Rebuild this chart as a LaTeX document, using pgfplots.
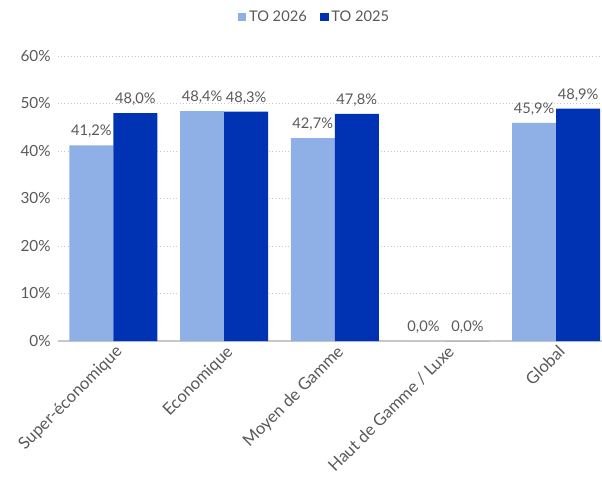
\documentclass[border=0pt]{standalone}
\usepackage{fontspec}
\setmainfont{Lato}
\usepackage{pgfplots}
\pgfplotsset{compat=1.18}
\definecolor{lightb}{RGB}{142,176,230}
\definecolor{darkb}{RGB}{0,51,180}
\definecolor{txt}{RGB}{89,89,89}
\definecolor{gridc}{RGB}{200,200,200}
\begin{document}
\begin{tikzpicture}
\path[use as bounding box] (-43.5pt,-101.25pt) rectangle (408pt,255.75pt);
\begin{axis}[
  at={(0,0)}, anchor=south west,
  scale only axis, width=408pt, height=213.75pt,
  xmin=-0.5, xmax=4.414, ymin=0, ymax=60,
  ybar, bar width=33pt,
  axis x line*=bottom,
  axis y line*=left,
  x axis line style={draw=gridc, line width=0.8pt, -},
  y axis line style={draw=none},
  ymajorgrids, grid style={gridc, dotted, line width=0.6pt},
  ytick={0,10,...,60},
  yticklabels={0\%,10\%,20\%,30\%,40\%,50\%,60\%},
  xtick={0,1,2,3,4},
  xticklabels={Super-économique,Economique,Moyen de Gamme,Haut de Gamme / Luxe,Global},
  x tick label style={rotate=45, anchor=north east, inner sep=1pt, xshift=0pt, yshift=-1pt, font=\fontsize{12.5}{14}\selectfont},
  y tick label style={font=\fontsize{11.5}{14}\selectfont, xshift=-2pt},
  major tick length=0pt,
  tick label style={text=txt},
  /pgf/number format/assume math mode=true,
  nodes near coords={\pgfmathprintnumber[fixed,fixed zerofill,precision=1,use comma]{\pgfplotspointmeta}\%},
  every node near coord/.append style={font=\fontsize{11}{13}\selectfont, text=txt, yshift=2pt},
  legend style={at={(0.472,1.137)}, anchor=center, draw=none, font=\fontsize{11}{13}\selectfont, text=txt, legend columns=2, /tikz/every even column/.append style={column sep=8pt}},
  legend image code/.code={\fill[#1] (0pt,-3.2pt) rectangle (6.4pt,3.2pt);},
  clip=false,
]
\addplot[fill=lightb, draw=none, bar shift=-16.5pt] coordinates {(0,41.2) (1,48.4) (2,42.7) (3,0) (4,45.9)};
\addplot[fill=darkb, draw=none, bar shift=16.5pt] coordinates {(0,48.0) (1,48.3) (2,47.8) (3,0) (4,48.9)};
\legend{TO 2026, TO 2025}
\end{axis}
\end{tikzpicture}
\end{document}
